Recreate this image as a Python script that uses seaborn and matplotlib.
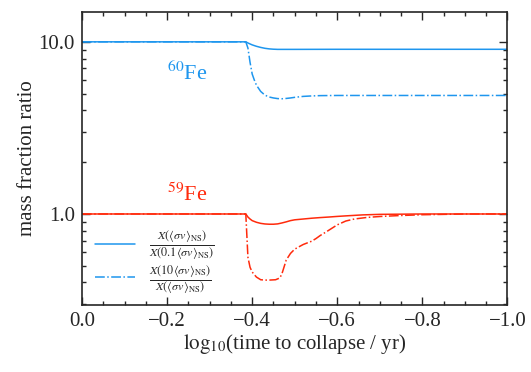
import numpy as np
import pandas as pd
import matplotlib
matplotlib.use("Agg")
import matplotlib.pyplot as plt
import matplotlib.ticker as mticker
import seaborn as sns

# ---------------- data ----------------
x_fe60_lo = [0.0, -0.38, -0.385, -0.39, -0.395, -0.40, -0.41, -0.42, -0.43, -0.44,
             -0.45, -0.46, -0.50, -0.60, -0.80, -1.0]
y_fe60_lo = [10.0, 10.0, 10.0, 9.85, 9.72, 9.6, 9.42, 9.28, 9.17, 9.1,
             9.06, 9.04, 9.04, 9.05, 9.05, 9.05]

x_fe60_hi = [0.0, -0.38, -0.385, -0.39, -0.395, -0.40, -0.405, -0.41, -0.42, -0.43,
             -0.44, -0.45, -0.46, -0.47, -0.48, -0.49, -0.50, -0.52, -0.54, -0.56,
             -0.60, -0.80, -1.0]
y_fe60_hi = [10.0, 10.0, 10.0, 9.2, 7.6, 6.5, 6.0, 5.6, 5.15, 4.9,
             4.78, 4.72, 4.68, 4.67, 4.69, 4.72, 4.76, 4.82, 4.85, 4.87,
             4.88, 4.88, 4.88]

x_fe59_lo = [0.0, -0.38, -0.385, -0.39, -0.395, -0.40, -0.41, -0.42, -0.43, -0.44,
             -0.45, -0.46, -0.47, -0.48, -0.49, -0.50, -0.52, -0.54, -0.56, -0.58,
             -0.60, -0.62, -0.66, -0.70, -0.80, -1.0]
y_fe59_lo = [1.0, 1.0, 1.0, 0.96, 0.935, 0.915, 0.895, 0.882, 0.875, 0.872,
             0.872, 0.876, 0.887, 0.9, 0.915, 0.925, 0.935, 0.945, 0.953, 0.96,
             0.968, 0.975, 0.988, 0.995, 1.0, 1.0]

x_fe59_hi = [0.0, -0.38, -0.385, -0.39, -0.395, -0.40, -0.41, -0.42, -0.43, -0.44,
             -0.455, -0.465, -0.47, -0.48, -0.49, -0.50, -0.51, -0.52, -0.53, -0.54,
             -0.55, -0.56, -0.575, -0.60, -0.62, -0.64, -0.67, -0.70, -0.75, -0.80,
             -0.90, -1.0]
y_fe59_hi = [1.0, 1.0, 1.0, 0.56, 0.49, 0.46, 0.43, 0.415, 0.413, 0.413,
             0.415, 0.425, 0.45, 0.54, 0.59, 0.625, 0.645, 0.665, 0.68, 0.695,
             0.72, 0.75, 0.79, 0.865, 0.91, 0.935, 0.955, 0.967, 0.98, 0.99,
             1.0, 1.0]

label_lo = r"$\frac{X(\langle\sigma v\rangle_{\rm NS})}{X(0.1\langle\sigma v\rangle_{\rm NS})}$"
label_hi = r"$\frac{X(10\langle\sigma v\rangle_{\rm NS})}{X(\langle\sigma v\rangle_{\rm NS})}$"
xticks = [0.0, -0.2, -0.4, -0.6, -0.8, -1.0]
yticks = [1.0, 10.0]

blue = "#1e96ee"
red = "#ff2a0c"

# ---------------- style ----------------
sns.set_style("ticks")
plt.rcParams["font.family"] = ["Liberation Serif", "DejaVu Serif"]
plt.rcParams["mathtext.fontset"] = "stix"
plt.rcParams["axes.linewidth"] = 1.2

fig = plt.figure(figsize=(5.31, 3.72), dpi=100)
ax = fig.add_axes([0.1544, 0.1801, 0.8013, 0.7876])

def frame(xs, ys, name):
    return pd.DataFrame({"x": xs, "y": ys, "series": name})

lw = 1.1
sns.lineplot(data=frame(x_fe60_lo, y_fe60_lo, "a"), x="x", y="y", ax=ax,
             color=blue, lw=lw, ls="-", label=label_lo, sort=False, estimator=None)
sns.lineplot(data=frame(x_fe60_hi, y_fe60_hi, "b"), x="x", y="y", ax=ax,
             color=blue, lw=lw, ls="-.", label=label_hi, sort=False, estimator=None)
sns.lineplot(data=frame(x_fe59_lo, y_fe59_lo, "c"), x="x", y="y", ax=ax,
             color=red, lw=lw, ls="-", sort=False, estimator=None, legend=False)
sns.lineplot(data=frame(x_fe59_hi, y_fe59_hi, "d"), x="x", y="y", ax=ax,
             color=red, lw=lw, ls="-.", sort=False, estimator=None, legend=False)

ax.set_yscale("log")
ax.set_xlim(0.0, -1.0)
ax.set_ylim(0.296, 14.9)

ax.xaxis.set_major_locator(mticker.FixedLocator(xticks))
ax.xaxis.set_minor_locator(mticker.MultipleLocator(0.05))
ax.xaxis.set_major_formatter(mticker.FuncFormatter(
    lambda v, p: ("%.1f" % v).replace("-", "\u2212")))
ax.yaxis.set_major_locator(mticker.FixedLocator(yticks))
ax.yaxis.set_major_formatter(mticker.FuncFormatter(lambda v, p: "%.1f" % v))
ax.yaxis.set_minor_locator(mticker.LogLocator(base=10, subs=np.arange(2, 10)))
ax.yaxis.set_minor_formatter(mticker.NullFormatter())

ax.tick_params(which="both", direction="in", top=True, right=True, labelsize=15,
               width=1.0)
ax.tick_params(which="major", length=6, pad=5)
ax.tick_params(which="minor", length=3)

ax.set_xlabel(r"$\mathrm{log}_{10}$(time to collapse / yr)", fontsize=15, labelpad=1)
ax.set_ylabel("mass fraction ratio", fontsize=15, labelpad=1)

ax.text(0.247, 0.768, r"$^{60}$Fe", color=blue, fontsize=16, ha="center",
        va="baseline", transform=ax.transAxes)
ax.text(0.247, 0.356, r"$^{59}$Fe", color=red, fontsize=16, ha="center",
        va="baseline", transform=ax.transAxes)

leg = ax.legend(loc="lower left", bbox_to_anchor=(0.03, 0.029), frameon=False,
                fontsize=12.5, handlelength=2.3, handletextpad=0.8,
                labelspacing=0.0, borderaxespad=0.0, borderpad=0.0)

fig.savefig("out.png", dpi=100)
